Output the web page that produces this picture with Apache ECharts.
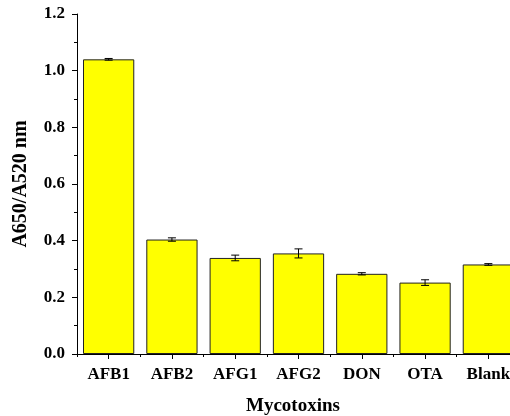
<!DOCTYPE html>
<html>
<head>
<meta charset="utf-8">
<script src="https://cdn.jsdelivr.net/npm/echarts@6/dist/echarts.min.js"></script>
<style>
html,body{margin:0;padding:0;background:#fff;overflow:hidden;width:510px;height:416px;}
#chart{width:520px;height:416px;}
</style>
</head>
<body>
<div id="chart"></div>
<script>
var categories = ['AFB1', 'AFB2', 'AFG1', 'AFG2', 'DON', 'OTA', 'Blank'];
var values = [1.040, 0.404, 0.339, 0.355, 0.283, 0.252, 0.316];
var errors = [0.003, 0.006, 0.010, 0.016, 0.004, 0.010, 0.003];
var yTicks = [0.0, 0.2, 0.4, 0.6, 0.8, 1.0, 1.2];

var FONT = 'Liberation Serif';
var chart = echarts.init(document.getElementById('chart'), null, {renderer: 'canvas'});

var errData = categories.map(function (c, i) {
  return [i, values[i] - errors[i], values[i] + errors[i]];
});

chart.setOption({
  animation: false,
  backgroundColor: '#ffffff',
  grid: {left: 77, top: 14, width: 443, height: 340, containLabel: false},
  xAxis: [{
    type: 'category',
    data: categories,
    boundaryGap: true,
    axisLine: {show: true, lineStyle: {color: '#000', width: 1}},
    axisTick: {show: true, alignWithLabel: true, length: 5, lineStyle: {color: '#000'}},
    axisLabel: {color: '#000', fontFamily: FONT, fontWeight: 'bold', fontSize: 17, margin: 12},
    splitLine: {show: false}
  }, {
    type: 'category',
    data: categories,
    position: 'bottom',
    boundaryGap: true,
    axisLine: {show: false},
    axisTick: {show: true, alignWithLabel: false, length: 3, lineStyle: {color: '#000'}},
    axisLabel: {show: false},
    splitLine: {show: false}
  }],
  yAxis: {
    type: 'value',
    min: 0,
    max: 1.2,
    interval: 0.2,
    name: 'A650/A520 nm',
    nameLocation: 'middle',
    nameGap: 46,
    nameRotate: 90,
    nameTextStyle: {color: '#000', fontFamily: FONT, fontWeight: 'bold', fontSize: 20},
    axisLine: {show: true, lineStyle: {color: '#000', width: 1}},
    axisTick: {show: true, length: 5, lineStyle: {color: '#000'}},
    minorTick: {show: true, splitNumber: 2, length: 3, lineStyle: {color: '#000'}},
    axisLabel: {
      color: '#000', fontFamily: FONT, fontWeight: 'bold', fontSize: 17, margin: 12,
      formatter: function (v) {
        for (var k = 0; k < yTicks.length; k++) {
          if (Math.abs(yTicks[k] - v) < 1e-6) return yTicks[k].toFixed(1);
        }
        return '';
      }
    },
    splitLine: {show: false},
    minorSplitLine: {show: false}
  },
  series: [{
    type: 'bar',
    data: values,
    barCategoryGap: '19%',
    itemStyle: {color: '#FFFF00', borderColor: '#222', borderWidth: 1}
  }, {
    type: 'custom',
    data: errData,
    z: 10,
    renderItem: function (params, api) {
      var x = api.value(0);
      var lo = api.coord([x, api.value(1)]);
      var hi = api.coord([x, api.value(2)]);
      var hw = 4;
      var st = {stroke: '#000', lineWidth: 1};
      return {
        type: 'group',
        children: [
          {type: 'line', shape: {x1: hi[0], y1: hi[1], x2: lo[0], y2: lo[1]}, style: st},
          {type: 'line', shape: {x1: hi[0] - hw, y1: hi[1], x2: hi[0] + hw, y2: hi[1]}, style: st},
          {type: 'line', shape: {x1: lo[0] - hw, y1: lo[1], x2: lo[0] + hw, y2: lo[1]}, style: st}
        ]
      };
    }
  }],
  graphic: [{
    type: 'text',
    left: 246,
    top: 397,
    style: {text: 'Mycotoxins', fill: '#000', font: 'bold 19px "Liberation Serif"'}
  }]
});
</script>
</body>
</html>
